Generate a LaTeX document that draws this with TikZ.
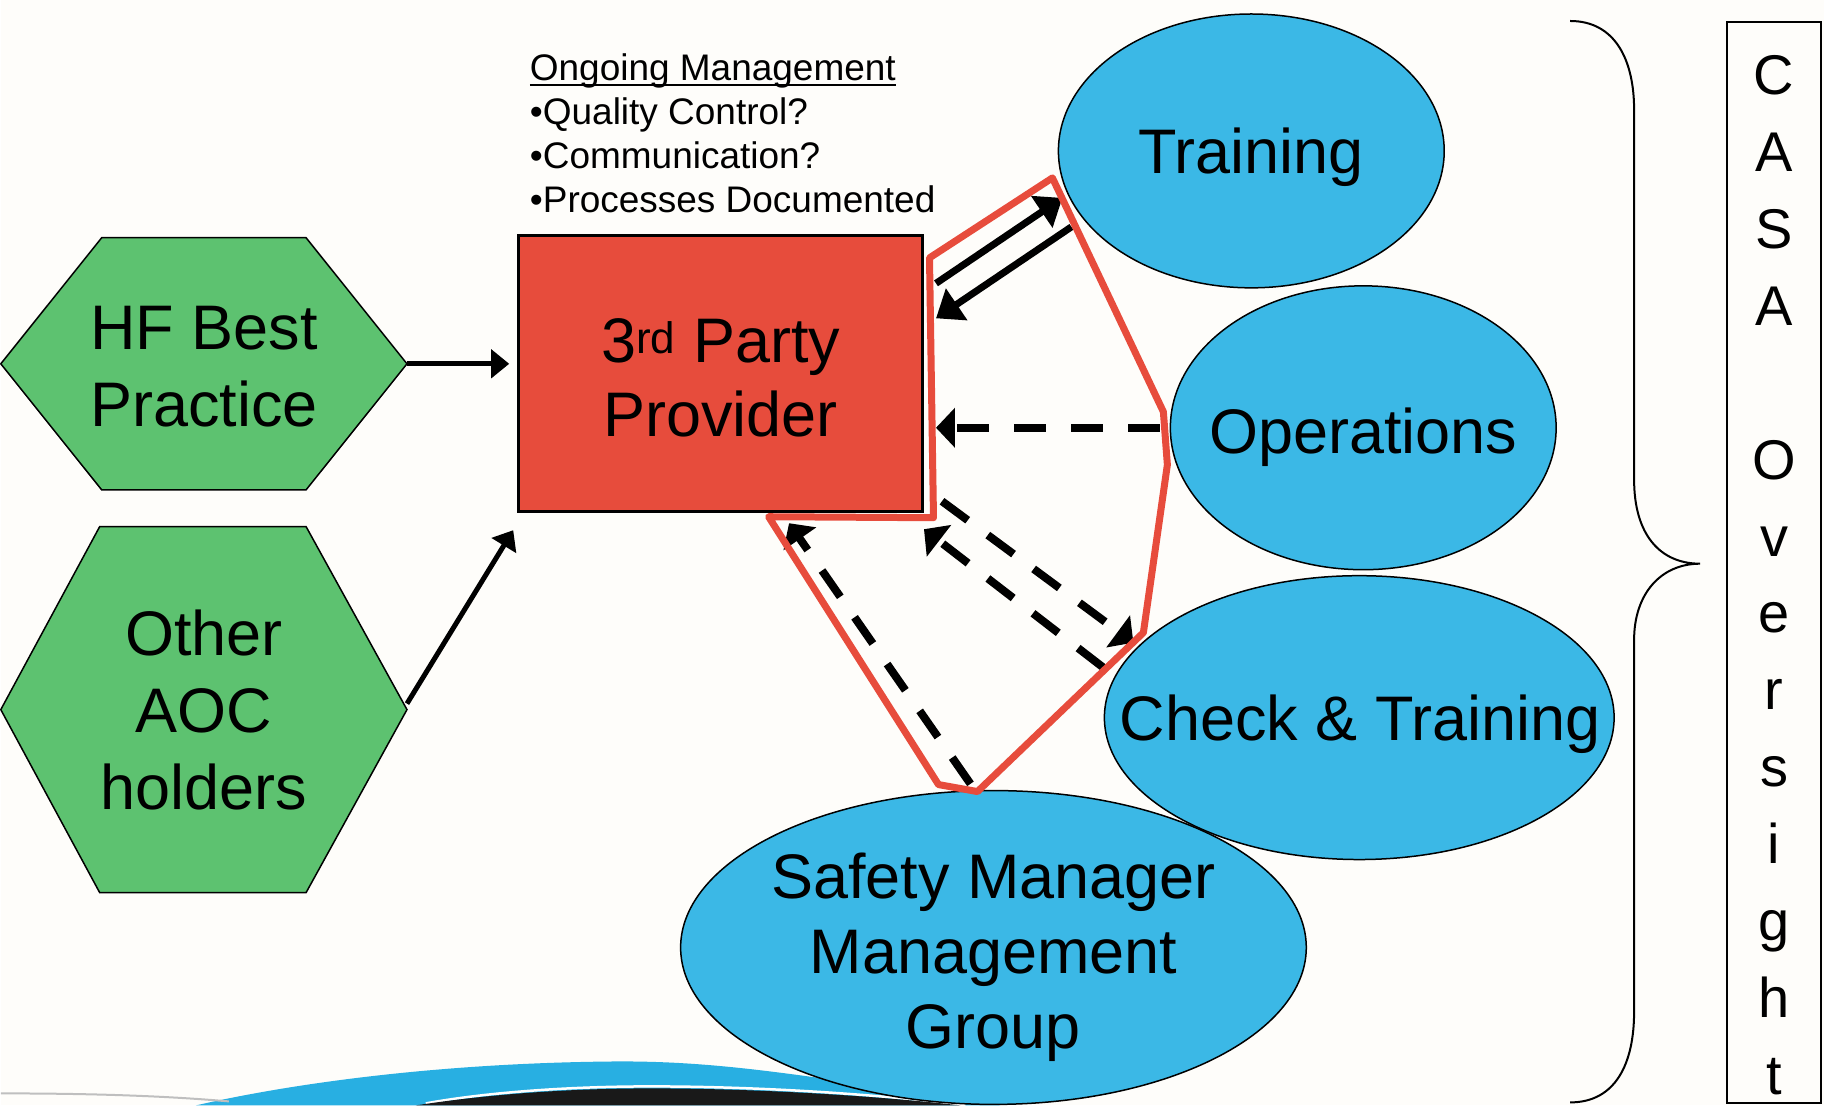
\documentclass[tikz,border=0pt]{standalone}
\usepackage{fontspec}
\setmainfont{Liberation Sans}
\usetikzlibrary{shapes.geometric,arrows.meta,calc}
\pgfdeclarelayer{back}
\pgfsetlayers{back,main}
\definecolor{pagebg}{RGB}{254,253,250}
\definecolor{hexgreen}{RGB}{93,194,112}
\definecolor{partyred}{RGB}{231,76,60}
\definecolor{ellblue}{RGB}{59,184,230}
\definecolor{swooshblue}{RGB}{40,175,226}
\newcommand\mybig{\fontsize{63}{74}\selectfont}
\newcommand\mybighex{\fontsize{63}{77}\selectfont}
\newcommand\mybigb{\fontsize{63}{75}\selectfont}
\newcommand\mysmall{\fontsize{37}{44}\selectfont}
\newcommand\mycasa{\fontsize{56}{77}\selectfont}
\newcommand\myul[1]{\setbox0\hbox{#1}\rlap{\rule[-5pt]{\wd0}{2pt}}\box0}
\begin{document}
\begin{tikzpicture}[x=1pt,y=-1pt,
  hexbox/.style={inner sep=0pt},
  hexline/.style={fill=hexgreen, draw=black, line width=1.5pt, line join=miter},
  ellbox/.style={ellipse, fill=ellblue, draw=black, line width=1.5pt, inner sep=0pt},
  bigtext/.style={font=\mybig, inner sep=0pt, anchor=base},
  blocktext/.style={inner sep=0pt, align=center},
  solidarrow/.style={line width=7pt, -{Triangle[length=25pt,width=37pt]}},
  thinarrow/.style={line width=5pt, -{Triangle[length=18pt,width=28pt]}},
  dasharrow/.style={line width=8pt, dash pattern=on 32pt off 25pt, -{Triangle[length=19pt,width=39pt]}},
  redline/.style={draw=partyred, line width=7pt, line join=round}
]
\begin{pgfonlayer}{back}
\fill[pagebg] (0,0) rectangle (1824,1106);
\fill[swooshblue] (195,1106) .. controls (300,1082) and (450,1063) .. (620,1062) .. controls (720,1062) and (800,1075) .. (1000,1106) -- cycle;
\draw[white, line width=2.5pt] (425,1104) .. controls (480,1094) and (560,1087) .. (650,1087) .. controls (760,1087) and (880,1095) .. (965,1106);
\fill[black!90] (415,1106) .. controls (480,1096) and (560,1089) .. (650,1089) .. controls (760,1089) and (880,1097) .. (960,1106) -- cycle;
\draw[gray!50, line width=2pt] (0,1094) .. controls (100,1094) and (170,1097) .. (228,1102);
\end{pgfonlayer}
\useasboundingbox (0,0) rectangle (1824,1106);

% hexagons
\node[hexbox, minimum width=406pt, minimum height=252pt] (hf) at (203,364) {};
\node[hexbox, minimum width=406pt, minimum height=366pt] (aoc) at (203,710) {};
\begin{pgfonlayer}{back}
\path[hexline] (hf.west) -- ([xshift=101pt]hf.north west) -- ([xshift=-101pt]hf.north east) -- (hf.east) -- ([xshift=-101pt]hf.south east) -- ([xshift=101pt]hf.south west) -- cycle;
\path[hexline] (aoc.west) -- ([xshift=99pt]aoc.north west) -- ([xshift=-101pt]aoc.north east) -- (aoc.east) -- ([xshift=-101pt]aoc.south east) -- ([xshift=99pt]aoc.south west) -- cycle;
\end{pgfonlayer}
\node[blocktext, font=\mybighex] (hflbl) at (203,367) {HF Best\\Practice};
\node[blocktext, font=\mybighex] (aoclbl) at (203,710) {Other\\AOC\\holders};

% 3rd party
\node[fill=partyred, draw=black, line width=3pt, minimum width=404pt, minimum height=276pt, inner sep=0pt] (party) at (720,374) {};
\node[blocktext, font=\mybig] (partylbl) at (720,378) {3\textsuperscript{rd} Party\\Provider};

% ongoing text
\node[anchor=north west, align=left, inner sep=0pt, font=\mysmall] (ongoing) at (529,54) {\myul{Ongoing Management}\\•Quality Control?\\•Communication?\\•Processes Documented};

% ellipses
\node[ellbox, minimum width=386pt, minimum height=274pt] (train) at (1251,151) {};
\node[ellbox, minimum width=386pt, minimum height=284pt] (ops) at (1363,428) {};
\node[ellbox, minimum width=510pt, minimum height=284pt] (check) at (1359,718) {};
\node[ellbox, minimum width=626pt, minimum height=314pt] (safety) at (993,948) {};

\node[bigtext] (trainlbl) at (1251,174) {Training};
\node[bigtext] (opslbl) at (1363,454) {Operations};
\node[bigtext] (checklbl) at (1360,741) {Check \& Training};
\node[inner sep=0pt, anchor=north, align=center, font=\mybigb] (safetylbl) at (993,853) {Safety Manager\\Management\\Group};

% arrows
\draw[thinarrow] (hf.east) -- ([xshift=-8pt]party.west |- hf.east);
\draw[thinarrow] ([yshift=6pt]aoc.east) -- ([xshift=-4pt,yshift=-17pt]party.south west);
\draw[solidarrow] ($(party.north east)+(12,49)$) -- ($(train)+(-189,47)$);
\draw[solidarrow] ($(train)+(-180,76)$) -- ($(party.north east)+(12,84)$);
\draw[dasharrow] ([xshift=-10pt]ops.west) -- ([xshift=12pt]party.east |- ops.west);
\draw[dasharrow] ($(party.south east)+(18,-12)$) -- ($(check)+(-226,-75)$);
\draw[dasharrow] ($(check)+(-256,-50)$) -- ($(party.south east)+(0,16)$);
\draw[dasharrow] ([xshift=-23pt,yshift=6pt]safety.north) -- ($(party.south west)+(272,10)$);

% red outline
\draw[redline] (929,258) -- (1052,178) -- (1163,412) -- (1167,465) -- (1143,633) -- (977,792) -- (938,785) -- (768,517) -- (933,518) -- cycle;

% brace
\draw[line width=2pt] (1570,21) .. controls (1615,21) and (1634,60) .. (1634,110) -- (1634,480) .. controls (1634,535) and (1660,564) .. (1700,564) .. controls (1660,564) and (1634,595) .. (1634,640) -- (1634,1012) .. controls (1634,1065) and (1615,1103) .. (1570,1103);

% CASA box
\node[draw=black, line width=2pt, minimum width=94pt, minimum height=1082pt, inner sep=0pt] (casabox) at (1774,563) {};
\node[anchor=north, align=center, inner sep=0pt, font=\mycasa] (casa) at (1774,55) {C\\A\\S\\A\\\mbox{}\\O\\v\\e\\r\\s\\i\\g\\h\\t};
\end{tikzpicture}
\end{document}
